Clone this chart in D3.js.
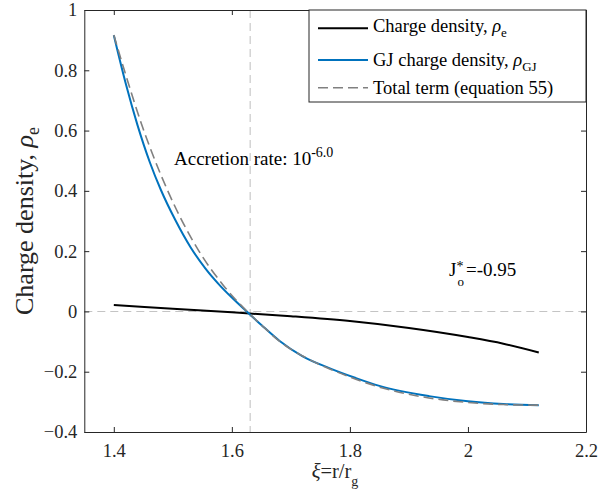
<!DOCTYPE html>
<html><head><meta charset="utf-8">
<script src="https://cdn.jsdelivr.net/npm/d3@7"></script>
<style>
html,body{margin:0;padding:0;background:#fff;}
svg{display:block;}
svg text{font-family:"Liberation Serif","Times New Roman",serif;}
</style></head>
<body><svg id="c" width="607" height="497"></svg>
<script>
// ---- data ----
const xTicks = [1.4, 1.6, 1.8, 2, 2.2];
const yTicks = [-0.4, -0.2, 0, 0.2, 0.4, 0.6, 0.8, 1];
const rhoX   = [1.40, 1.50, 1.60, 1.70, 1.80, 1.90, 2.00, 2.06, 2.12];
const rhoY   = [0.021, 0.009, -0.003, -0.016, -0.032, -0.055, -0.085, -0.107, -0.136];
const gjX    = [1.400, 1.421, 1.440, 1.461, 1.480, 1.504, 1.530, 1.555, 1.578, 1.600, 1.625, 1.650, 1.681, 1.720, 1.765, 1.810, 1.850, 1.934, 2.000, 2.060, 2.120];
const gjY    = [0.916, 0.750, 0.619, 0.495, 0.402, 0.304, 0.213, 0.143, 0.090, 0.046, 0.000, -0.045, -0.098, -0.149, -0.188, -0.221, -0.247, -0.281, -0.298, -0.307, -0.311];
const totX   = [1.400, 1.418, 1.4497, 1.4903, 1.544, 1.585, 1.628, 1.655, 1.680, 1.720, 1.765, 1.810, 1.850, 1.934, 2.000, 2.060, 2.120];
const totY   = [0.917, 0.799, 0.606, 0.405, 0.201, 0.088, -0.004, -0.054, -0.098, -0.148, -0.190, -0.225, -0.251, -0.287, -0.302, -0.309, -0.311];
const refX   = 1.631;   // vertical reference line
const refY   = 0;       // horizontal reference line
const legendLabels = ["Charge density, ", "GJ charge density, ", "Total term (equation 55)"];

// ---- layout ----
const FONT = '"Liberation Serif","Times New Roman",serif';
const L = 84.3, R = 586, T = 10, B = 432;
const svg = d3.select("#c");
const x = d3.scaleLinear().domain([1.35, 2.2]).range([L, R]);
const y = d3.scaleLinear().domain([-0.4, 1]).range([B, T]);
const axisCol = "#262626";
const FS = 18.5;

// reference lines
svg.append("line").attr("x1", L).attr("x2", R).attr("y1", y(refY)).attr("y2", y(refY))
  .attr("stroke", "#c4c4c4").attr("stroke-width", 1.1).attr("stroke-dasharray", "8,5");
svg.append("line").attr("x1", x(refX)).attr("x2", x(refX)).attr("y1", T).attr("y2", B)
  .attr("stroke", "#c4c4c4").attr("stroke-width", 1.1).attr("stroke-dasharray", "8,5");

// curves
const mk = (xs, ys) => xs.map((v, i) => [v, ys[i]]);
const line = d3.line().x(d => x(d[0])).y(d => y(d[1])).curve(d3.curveMonotoneX);
svg.append("path").attr("d", line(mk(rhoX, rhoY))).attr("fill", "none").attr("stroke", "#000").attr("stroke-width", 2);
svg.append("path").attr("d", line(mk(gjX, gjY))).attr("fill", "none").attr("stroke", "#0072BD").attr("stroke-width", 2);
svg.append("path").attr("d", line(mk(totX, totY))).attr("fill", "none").attr("stroke", "#808080").attr("stroke-width", 1.6).attr("stroke-dasharray", "10,5");

// axes
function styleAxis(g) {
  g.attr("font-family", FONT);
  g.select(".domain").attr("stroke", axisCol).attr("stroke-width", 1);
  g.selectAll(".tick line").attr("stroke", axisCol).attr("stroke-width", 1);
  g.selectAll("text").attr("fill", axisCol).attr("font-family", FONT).style("font-size", FS + "px");
}
svg.append("g").attr("transform", `translate(0,${B})`)
  .call(d3.axisBottom(x).tickValues(xTicks).tickFormat(d3.format("")).tickSizeInner(-5).tickSizeOuter(0).tickPadding(12))
  .call(styleAxis);
svg.append("g").attr("transform", `translate(${L},0)`)
  .call(d3.axisLeft(y).tickValues(yTicks).tickFormat(d3.format("")).tickSizeInner(-5).tickSizeOuter(0).tickPadding(7))
  .call(styleAxis);
svg.append("g").attr("transform", `translate(0,${T})`)
  .call(d3.axisTop(x).tickValues(xTicks).tickFormat("").tickSizeInner(-5).tickSizeOuter(0))
  .call(styleAxis);
svg.append("g").attr("transform", `translate(${R},0)`)
  .call(d3.axisRight(y).tickValues(yTicks).tickFormat("").tickSizeInner(-5).tickSizeOuter(0))
  .call(styleAxis);

function txt(sel) { return sel.attr("font-family", FONT); }

// axis labels
const xl = txt(svg.append("text")).attr("x", 335).attr("y", 478).attr("text-anchor", "middle")
  .style("font-size", "20.5px").attr("fill", axisCol);
xl.append("tspan").text("ξ").style("font-style", "italic");
xl.append("tspan").text("=r/r");
xl.append("tspan").text("g").attr("dy", 8).style("font-size", "14px");

const yl = txt(svg.append("text")).attr("transform", "translate(33,221) rotate(-90)").attr("text-anchor", "middle")
  .style("font-size", "26px").attr("fill", axisCol);
yl.append("tspan").text("Charge density, ");
yl.append("tspan").text("ρ").style("font-style", "italic");
yl.append("tspan").text("e").attr("dy", 6).style("font-size", "18px");

// annotations
const acc = txt(svg.append("text")).attr("x", 174).attr("y", 165).style("font-size", "19px").attr("fill", "#000");
acc.append("tspan").text("Accretion rate: 10");
acc.append("tspan").text("-6.0").attr("dy", -8).style("font-size", "14px");

txt(svg.append("text")).attr("x", 449).attr("y", 276).style("font-size", "19px").text("J");
txt(svg.append("text")).attr("x", 456.5).attr("y", 271).style("font-size", "14px").text("*");
txt(svg.append("text")).attr("x", 457.5).attr("y", 286).style("font-size", "13px").text("o");
txt(svg.append("text")).attr("x", 466).attr("y", 276).style("font-size", "19px").text("=-0.95");

// legend
const lg = svg.append("g");
lg.append("rect").attr("x", 309).attr("y", T).attr("width", R - 309).attr("height", 92)
  .attr("fill", "#fff").attr("stroke", axisCol).attr("stroke-width", 1);
const rows = [
  {ly: 28.3, ty: 32, col: "#000", dash: null, sw: 2, sub: "e"},
  {ly: 60, ty: 65.5, col: "#0072BD", dash: null, sw: 2, sub: "GJ"},
  {ly: 87.7, ty: 94, col: "#808080", dash: "10,5", sw: 1.6, sub: null}
];
rows.forEach((r, i) => {
  lg.append("line").attr("x1", 318).attr("x2", 368).attr("y1", r.ly).attr("y2", r.ly)
    .attr("stroke", r.col).attr("stroke-width", r.sw).attr("stroke-dasharray", r.dash);
  const t = txt(lg.append("text")).attr("x", 373).attr("y", r.ty).style("font-size", FS + "px").attr("fill", "#000");
  t.append("tspan").text(legendLabels[i]);
  if (r.sub) {
    t.append("tspan").text("ρ").style("font-style", "italic");
    t.append("tspan").text(r.sub).attr("dy", 5).style("font-size", "13px");
  }
});
</script></body></html>
